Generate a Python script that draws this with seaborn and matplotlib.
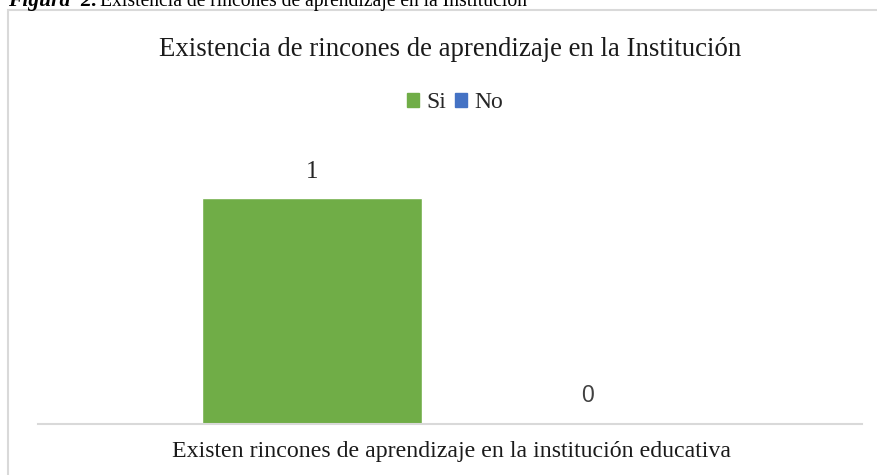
import seaborn as sns
import matplotlib.pyplot as plt
import matplotlib.patches as mpatches
import pandas as pd

# Data
category = ["Existen rincones de aprendizaje en la institución educativa"]
series = ["Si", "No"]
values = [1, 0]
colors = ["#70ad47", "#4472c4"]

df = pd.DataFrame({"cat": category * len(series), "serie": series, "valor": values})

sns.set_style("white")
plt.rcParams["font.family"] = ["Liberation Serif", "DejaVu Serif"]

fig = plt.figure(figsize=(8.77, 4.75), dpi=100)
ax = fig.add_axes([38 / 877, 51 / 475, 824 / 877, 271 / 475])

sns.barplot(data=df, x="cat", y="valor", hue="serie", palette=colors,
            width=0.8, gap=0.2, legend=False, ax=ax, saturation=1)

ax.set_xlim(-0.599, 0.599)
ax.set_ylim(0, 1.2)
ax.set_xlabel("")
ax.set_ylabel("")
ax.set_xticks([])
ax.set_yticks([])
for s in ["top", "right", "left"]:
    ax.spines[s].set_visible(False)
ax.spines["bottom"].set_color("#d9d9d9")
ax.spines["bottom"].set_linewidth(1.5)

# value labels
for cont, v in zip(ax.containers, values):
    if v:
        ax.bar_label(cont, labels=[str(v)], padding=11, fontsize=18,
                     color="#262626", family="Liberation Serif")
    else:
        ax.bar_label(cont, labels=[str(v)], padding=12, fontsize=16.5,
                     color="#404040", family="Liberation Sans")

# category label below axis
fig.text(451 / 877, 1 - 452 / 475, category[0], ha="center", va="center",
         fontsize=17.2, color="#1a1a1a")

# chart title
fig.text(450 / 877, 1 - 49 / 475,
         "Existencia de rincones de aprendizaje en la Institución",
         ha="center", va="center", fontsize=19.3, color="#1a1a1a")

# legend
handles = [mpatches.Patch(color=c, label=s) for s, c in zip(series, colors)]
fig.legend(handles=handles, loc="center", bbox_to_anchor=(455 / 877, 1 - 103 / 475),
           ncol=2, frameon=False, fontsize=17, handlelength=0.5, handleheight=0.5,
           handletextpad=0.3, columnspacing=0.4)

# chart border
fig.patches.append(mpatches.Rectangle((8 / 877, -0.1), 1.2, 1.1 - 10 / 475,
                                      transform=fig.transFigure, fill=False,
                                      edgecolor="#d9d9d9", linewidth=1.5))

# figure caption (cut off at the top, as in the source)
fig.text(8 / 877, 1 - 6 / 475, "Figura  2.", ha="left", va="baseline",
         fontsize=15.5, fontweight="bold", fontstyle="italic", color="black")
fig.text(100 / 877, 1 - 6 / 475,
         "Existencia de rincones de aprendizaje en la Institución",
         ha="left", va="baseline", fontsize=14.1, color="black")

fig.savefig("out.png", dpi=100)
